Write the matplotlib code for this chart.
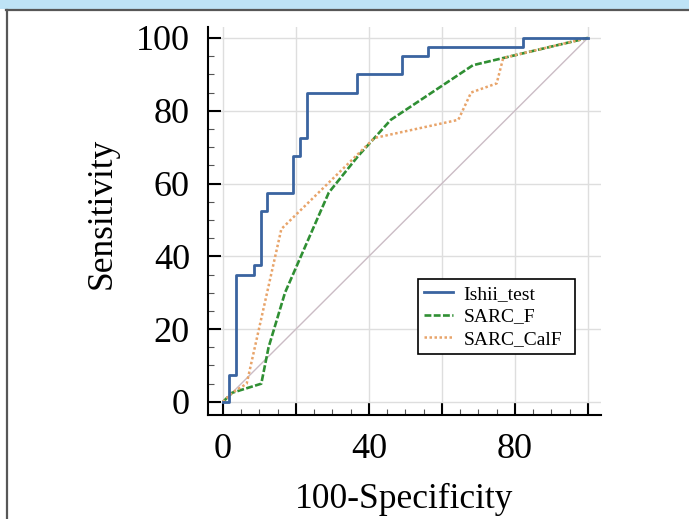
import matplotlib
matplotlib.use('Agg')
import matplotlib.pyplot as plt
from matplotlib.lines import Line2D
from matplotlib.patches import Rectangle
from matplotlib.ticker import MultipleLocator, FixedFormatter, FixedLocator

# ROC curves (x = 100-specificity, y = sensitivity)
fpr_ishii = [0, 1.7, 3.6, 8.6, 10.3, 12.2, 19.3, 21.1, 22.9, 36.6, 49.0, 56.1, 82.1, 100]
sens_ishii = [0, 7.5, 35, 37.5, 52.5, 57.5, 67.5, 72.5, 85, 90, 95, 97.5, 100, 100]

fpr_sarcf = [0, 2.5, 10.5, 12.5, 17, 29, 37, 41.5, 46, 68.5, 100]
sens_sarcf = [0, 2.5, 5, 15, 30, 57.5, 67.5, 72.5, 77.5, 92.5, 100]

fpr_calf = [0, 2.5, 6.5, 16, 41.5, 64.5, 68, 75, 76.8, 100]
sens_calf = [0, 2.5, 5, 47.5, 72.5, 77.5, 85, 87.5, 94.5, 100]

diag = [0, 100]

x_ticklabels = ['0', '', '40', '', '80', '']
y_ticks = [0, 20, 40, 60, 80, 100]

serif = ['Liberation Serif', 'DejaVu Serif']

fig = plt.figure(figsize=(6.89, 5.19), dpi=100)

# page decoration: blue band on top and grey frame
fig.patches.append(Rectangle((0, 1 - 9 / 519), 1, 9 / 519, transform=fig.transFigure,
                             facecolor='#bee3f6', edgecolor='none', zorder=0))
fig.lines.append(Line2D([6 / 689, 1], [1 - 10 / 519, 1 - 10 / 519], transform=fig.transFigure,
                        color='#575757', lw=1.6))
fig.lines.append(Line2D([7 / 689, 7 / 689], [0, 1 - 10 / 519], transform=fig.transFigure,
                        color='#575757', lw=1.6))

ax = fig.add_axes([208 / 689, 104 / 519, 393 / 689, 388 / 519])

ax.plot(diag, diag, color='#cbbcc5', lw=1.0, zorder=2)
ax.plot(fpr_ishii, sens_ishii, drawstyle='steps-post', color='#3a64a0', lw=2.0,
        label='Ishii_test', zorder=4)
ax.plot(fpr_sarcf, sens_sarcf, color='#2f8f33', lw=1.9, dashes=(2.6, 0.9),
        label='SARC_F', zorder=3)
ax.plot(fpr_calf, sens_calf, color='#e8a46a', lw=1.8, linestyle=(0, (1, 1)),
        label='SARC_CalF', zorder=3)

ax.set_xlim(-4.1, 103.6)
ax.set_ylim(-3.6, 103)

ax.xaxis.set_major_locator(FixedLocator([0, 20, 40, 60, 80, 100]))
ax.xaxis.set_major_formatter(FixedFormatter(x_ticklabels))
ax.xaxis.set_minor_locator(MultipleLocator(5))
ax.yaxis.set_major_locator(FixedLocator(y_ticks))
ax.yaxis.set_minor_locator(MultipleLocator(5))

for side in ['top', 'right']:
    ax.spines[side].set_visible(False)
for side in ['left', 'bottom']:
    ax.spines[side].set_linewidth(1.5)
    ax.spines[side].set_color('black')

ax.tick_params(which='major', direction='in', length=9.5, width=1.5, pad=13,
               labelsize=26)
ax.tick_params(which='minor', direction='in', length=4, width=0.8, color='#555555')
for lab in ax.get_xticklabels() + ax.get_yticklabels():
    lab.set_family(serif)

ax.grid(True, which='major', color='#dedede', lw=1.0, zorder=0)
ax.set_axisbelow(True)

ax.set_xlabel('100-Specificity', fontsize=25.5, family=serif)
ax.set_ylabel('Sensitivity', fontsize=25.5, family=serif)
ax.xaxis.set_label_coords(0.5, -0.175)
ax.yaxis.set_label_coords(-0.228, 0.52)

leg = ax.legend(loc='upper left', bbox_to_anchor=(0.534, 0.15, 0.4, 0.2),
                mode='expand', borderaxespad=0, fancybox=False, framealpha=1,
                edgecolor='black', prop={'family': serif, 'size': 14},
                handlelength=1.5, handletextpad=0.55, labelspacing=0.26,
                borderpad=0.3)
leg.get_frame().set_linewidth(1.2)

fig.savefig('out.png', dpi=100)
